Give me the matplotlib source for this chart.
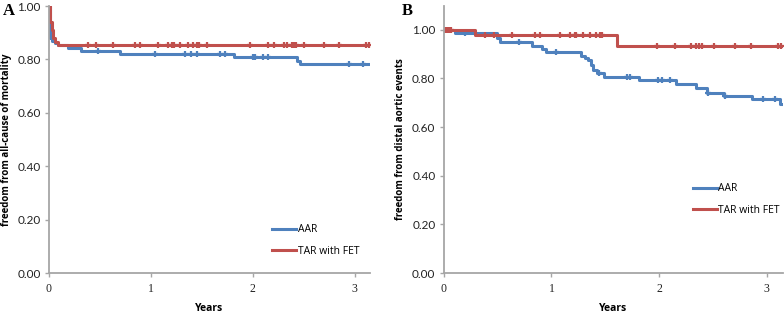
import matplotlib
matplotlib.use('Agg')
import numpy as np
import matplotlib.pyplot as plt

# Panel A: freedom from all-cause mortality (step times / survival levels)
a_aar_t = [0, 0.005, 0.01, 0.03, 0.06, 0.09, 0.19, 0.31, 0.70, 1.82, 2.43, 2.46, 3.15]
a_aar_s = [1.0, 0.935, 0.88, 0.87, 0.86, 0.855, 0.844, 0.832, 0.820, 0.808, 0.795, 0.782, 0.782]
a_aar_cens = [0.48, 1.04, 1.33, 1.39, 1.45, 1.68, 1.73, 2.00, 2.02, 2.10, 2.15, 2.94, 3.08]

a_tar_t = [0, 0.01, 0.025, 0.04, 0.06, 0.09, 3.15]
a_tar_s = [1.0, 0.94, 0.91, 0.88, 0.865, 0.855, 0.855]
a_tar_cens = [0.385, 0.46, 0.63, 0.84, 0.89, 1.07, 1.17, 1.21, 1.23, 1.29, 1.36, 1.41,
              1.45, 1.47, 1.55, 1.97, 2.15, 2.21, 2.31, 2.34, 2.38, 2.40, 2.42, 2.50,
              2.70, 2.85, 3.11, 3.14]

# Panel B: freedom from distal aortic events
b_aar_t = [0, 0.10, 0.49, 0.52, 0.82, 0.91, 0.95, 1.27, 1.31, 1.34, 1.37, 1.39, 1.42,
           1.49, 1.81, 2.16, 2.34, 2.44, 2.60, 2.86, 3.12, 3.15]
b_aar_s = [1.0, 0.988, 0.966, 0.948, 0.934, 0.92, 0.908, 0.894, 0.885, 0.877, 0.856,
           0.835, 0.824, 0.808, 0.794, 0.778, 0.760, 0.742, 0.728, 0.715, 0.694, 0.694]
b_aar_cens = [0.20, 0.70, 1.04, 1.44, 1.70, 1.73, 1.99, 2.03, 2.10, 2.45, 2.61, 2.96, 3.08]

b_tar_t = [0, 0.29, 1.61, 3.15]
b_tar_s = [1.0, 0.977, 0.935, 0.935]
b_tar_cens = [0.01, 0.03, 0.05, 0.07, 0.38, 0.47, 0.63, 0.85, 0.89, 1.08, 1.17, 1.22,
              1.23, 1.29, 1.36, 1.41, 1.45, 1.47, 1.98, 2.15, 2.30, 2.34, 2.37, 2.40,
              2.51, 2.70, 2.85, 3.10, 3.13]

BLUE = '#4F81BD'
RED = '#C0504D'
GREY = '#A6A6A6'


def step_value(t, s, x):
    idx = np.searchsorted(t, x, side='right') - 1
    return np.array(s)[idx]


def draw_curve(ax, t, s, cens, color, label):
    ax.plot(t, s, drawstyle='steps-post', color=color, lw=2.2, label=label)
    ax.plot(cens, step_value(t, s, cens), linestyle='none', marker='+',
            color=color, ms=5, mew=1.6)


def style_axis(ax, ylim, ylabel):
    ax.set_xlim(0, 3.15)
    ax.set_ylim(0, ylim)
    ax.set_yticks([0, 0.2, 0.4, 0.6, 0.8, 1.0])
    ax.set_yticklabels(['0.00', '0.20', '0.40', '0.60', '0.80', '1.00'],
                       family='Lato', fontsize=8.5, color='#222222')
    ax.set_xticks([0, 1, 2, 3])
    ax.set_xticklabels(['0', '1', '2', '3'], family='Liberation Serif',
                       fontsize=8.5, color='#222222')
    for side in ['top', 'right']:
        ax.spines[side].set_visible(False)
    for side in ['left', 'bottom']:
        ax.spines[side].set_color(GREY)
        ax.spines[side].set_linewidth(1.3)
    ax.tick_params(axis='both', color=GREY, length=3, width=1, pad=3)
    ax.tick_params(axis='x', pad=4)
    ax.set_xlabel('Years', family='Open Sans', fontweight='bold', fontsize=7.5,
                  labelpad=6)
    ax.set_ylabel(ylabel, family='Open Sans', fontweight='bold', fontsize=7,
                  labelpad=4)


fig = plt.figure(figsize=(7.84, 3.16), dpi=100)
axA = fig.add_axes([0.0625, 0.136, 0.4095, 0.845])
axB = fig.add_axes([0.566, 0.136, 0.4327, 0.8465])

draw_curve(axA, a_aar_t, a_aar_s, a_aar_cens, BLUE, 'AAR')
draw_curve(axA, a_tar_t, a_tar_s, a_tar_cens, RED, 'TAR with FET')
style_axis(axA, 1.0, 'freedom from all-cause of mortality')

draw_curve(axB, b_aar_t, b_aar_s, b_aar_cens, BLUE, 'AAR')
draw_curve(axB, b_tar_t, b_tar_s, b_tar_cens, RED, 'TAR with FET')
style_axis(axB, 1.1, 'freedom from distal aortic events')

for ax, x0, y0 in [(axA, 0.695, 0.182), (axB, 0.734, 0.335)]:
    ax.legend(loc='upper left', bbox_to_anchor=(x0, y0), frameon=False,
              handlelength=2.3, handletextpad=0.15, labelspacing=1.0,
              borderaxespad=0, borderpad=0,
              prop={'family': 'Open Sans', 'size': 7.5})

fig.text(0.003, 0.965, 'A', family='Liberation Serif', fontweight='bold',
         fontsize=12, va='center')
fig.text(0.512, 0.965, 'B', family='Liberation Serif', fontweight='bold',
         fontsize=12, va='center')

fig.savefig('out.png', dpi=100)
